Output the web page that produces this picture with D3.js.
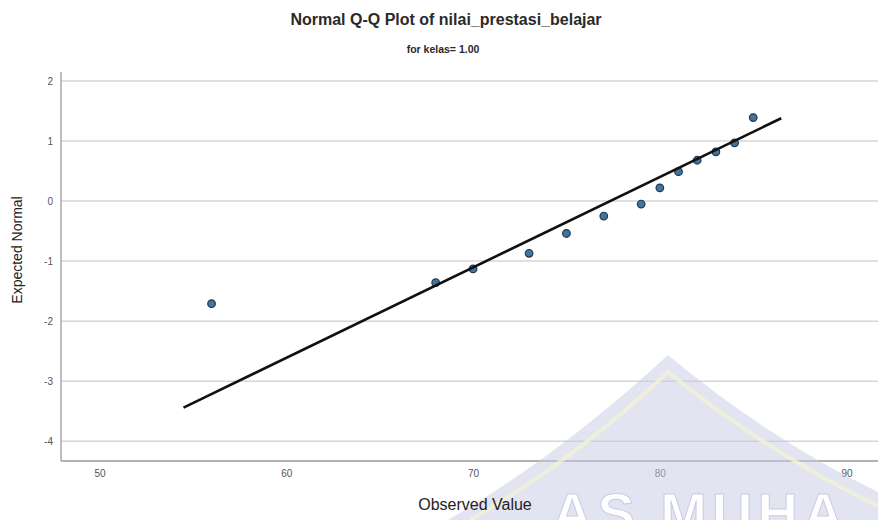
<!DOCTYPE html>
<html>
<head>
<meta charset="utf-8">
<script src="https://cdn.jsdelivr.net/npm/d3@7"></script>
<style>
  body { margin: 0; background: #fff; }
  text { font-family: "Liberation Sans", Arial, sans-serif; }
</style>
</head>
<body>
<div id="container"></div>
<script>
'use strict';

const w = 878;
const h = 520;

// Data.
const observed = [56, 68, 70, 73, 75, 77, 79, 80, 81, 82, 83, 84, 85];
const expected = [-1.71, -1.36, -1.13, -0.87, -0.54, -0.25, -0.05, 0.22, 0.49, 0.68, 0.82, 0.97, 1.39];
const lineObserved = [54.5, 86.5];     // reference line ends
const lineExpected = [-3.44, 1.38];
const xTicks = [50, 60, 70, 80, 90];
const yTicks = [2, 1, 0, -1, -2, -3, -4];

const plot = { left: 61, right: 878, top: 72, bottom: 461 };

const svg = d3.select('#container')
    .append('svg')
    .attr('width', w)
    .attr('height', h);

const xScale = d3.scaleLinear()
    .domain([47.94, 91.68])
    .range([plot.left, plot.right]);
const yScale = d3.scaleLinear()
    .domain([-4.33, 2.15])
    .range([plot.bottom, plot.top]);

// Titles.
svg.append('text')
    .attr('x', 446)
    .attr('y', 25)
    .attr('text-anchor', 'middle')
    .attr('font-size', 16)
    .attr('font-weight', 'bold')
    .attr('fill', '#2a2a2a')
    .text('Normal Q-Q Plot of nilai_prestasi_belajar');

svg.append('text')
    .attr('x', 443)
    .attr('y', 53)
    .attr('text-anchor', 'middle')
    .attr('font-size', 10.5)
    .attr('font-weight', 'bold')
    .attr('fill', '#2a2a2a')
    .text('for kelas= 1.00');

// Grid lines.
svg.append('g')
    .selectAll('line')
    .data(yTicks)
    .enter()
    .append('line')
    .attr('x1', plot.left)
    .attr('x2', plot.right)
    .attr('y1', d => yScale(d))
    .attr('y2', d => yScale(d))
    .attr('stroke', '#d6d6d6')
    .attr('stroke-width', 1.5);

// Axes (labels only, lines drawn by hand).
const xAxis = d3.axisBottom(xScale).tickValues(xTicks).tickSize(0).tickPadding(9)
    .tickFormat(d => String(d));
const yAxis = d3.axisLeft(yScale).tickValues(yTicks).tickSize(0).tickPadding(8)
    .tickFormat(d => String(d));

const gx = svg.append('g')
    .attr('transform', 'translate(0,' + plot.bottom + ')')
    .call(xAxis);
const gy = svg.append('g')
    .attr('transform', 'translate(' + plot.left + ',0)')
    .call(yAxis);
[gx, gy].forEach(g => {
    g.select('.domain').remove();
    g.selectAll('text')
        .attr('font-family', '"Liberation Sans", Arial, sans-serif')
        .attr('font-size', 10)
        .attr('fill', '#555');
});

svg.append('line')
    .attr('x1', plot.left).attr('x2', plot.left)
    .attr('y1', plot.top).attr('y2', plot.bottom)
    .attr('stroke', '#a8a8a8')
    .attr('stroke-width', 1.5);
svg.append('line')
    .attr('x1', plot.left).attr('x2', plot.right)
    .attr('y1', plot.bottom).attr('y2', plot.bottom)
    .attr('stroke', '#999')
    .attr('stroke-width', 1.5);

// Points.
svg.append('g')
    .selectAll('circle')
    .data(observed)
    .enter()
    .append('circle')
    .attr('cx', d => xScale(d))
    .attr('cy', (d, i) => yScale(expected[i]))
    .attr('r', 3.8)
    .attr('fill', '#44739b')
    .attr('stroke', '#1e3850')
    .attr('stroke-width', 1.2);

// Reference line.
svg.append('line')
    .attr('x1', xScale(lineObserved[0]))
    .attr('y1', yScale(lineExpected[0]))
    .attr('x2', xScale(lineObserved[1]))
    .attr('y2', yScale(lineExpected[1]))
    .attr('stroke', '#111')
    .attr('stroke-width', 2.6);

// Watermark.
const wm = svg.append('g');
wm.append('path')
    .attr('d', 'M448,520 Q560,455 668,355 Q770,440 878,492 L878,520 Z')
    .attr('fill', '#c8cae6')
    .attr('opacity', 0.5);
wm.append('path')
    .attr('d', 'M470,520 Q572,462 668,372 Q766,452 878,506')
    .attr('fill', 'none')
    .attr('stroke', '#f3f1d6')
    .attr('stroke-width', 4)
    .attr('opacity', 0.8);
wm.append('text')
    .attr('x', 552)
    .attr('y', 532)
    .attr('font-size', 56)
    .attr('font-weight', 'bold')
    .attr('letter-spacing', 5)
    .attr('fill', '#fff')
    .attr('stroke', '#c9cbe6')
    .attr('stroke-width', 1)
    .text('AS MUHA');

// Axis titles.
svg.append('text')
    .attr('transform', 'translate(22,250) rotate(-90)')
    .attr('text-anchor', 'middle')
    .attr('font-size', 14)
    .attr('fill', '#222')
    .text('Expected Normal');

svg.append('text')
    .attr('x', 475)
    .attr('y', 510)
    .attr('text-anchor', 'middle')
    .attr('font-size', 16)
    .attr('fill', '#222')
    .text('Observed Value');
</script>
</body>
</html>
